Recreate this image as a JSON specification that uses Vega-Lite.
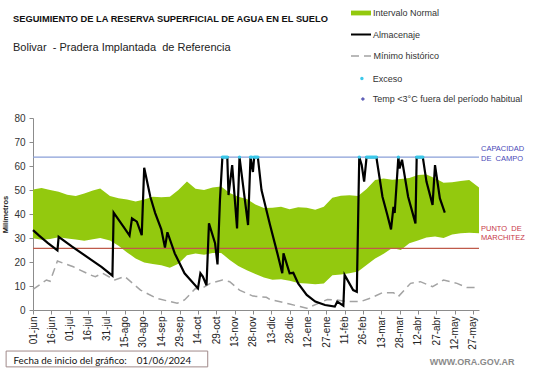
{
  "$schema": "https://vega.github.io/schema/vega-lite/v6.json",
  "width": 446,
  "height": 192,
  "autosize": {"type": "none"},
  "padding": {"left": 33, "top": 118, "right": 62, "bottom": 58},
  "background": "white",
  "config": {
    "view": {"stroke": null},
    "font": "Liberation Sans",
    "legend": {"title": null, "orient": "none", "padding": 0, "labelFont": "Liberation Sans", "labelFontSize": 9, "labelColor": "#333333", "labelLimit": 300}
  },
  "title": {
    "text": "SEGUIMIENTO DE LA RESERVA SUPERFICIAL DE AGUA EN EL SUELO",
    "subtitle": "Bolivar\u00a0 - Pradera Implantada\u00a0 de Referencia",
    "anchor": "start",
    "frame": "group",
    "dx": -20,
    "offset": -50,
    "font": "Liberation Sans",
    "fontSize": 9.3,
    "fontWeight": "bold",
    "color": "#111111",
    "subtitleFont": "Liberation Sans",
    "subtitleFontSize": 11,
    "subtitleColor": "#222222",
    "subtitlePadding": 18
  },
  "datasets": {
    "banda": [
      {"fecha": "2024-06-01", "inf": 29.9, "sup": 50.2},
      {"fecha": "2024-06-08", "inf": 29.3, "sup": 50.8},
      {"fecha": "2024-06-15", "inf": 29.6, "sup": 50.0},
      {"fecha": "2024-06-22", "inf": 30.3, "sup": 49.3},
      {"fecha": "2024-06-29", "inf": 29.8, "sup": 48.0},
      {"fecha": "2024-07-06", "inf": 29.4, "sup": 47.5},
      {"fecha": "2024-07-13", "inf": 28.9, "sup": 48.5},
      {"fecha": "2024-07-20", "inf": 29.5, "sup": 49.8},
      {"fecha": "2024-07-26", "inf": 30.0, "sup": 50.6},
      {"fecha": "2024-08-03", "inf": 29.0, "sup": 47.5},
      {"fecha": "2024-08-10", "inf": 26.8, "sup": 46.6},
      {"fecha": "2024-08-17", "inf": 24.0, "sup": 46.0},
      {"fecha": "2024-08-24", "inf": 21.5, "sup": 45.2},
      {"fecha": "2024-08-31", "inf": 19.8, "sup": 46.0},
      {"fecha": "2024-09-07", "inf": 19.2, "sup": 47.2},
      {"fecha": "2024-09-14", "inf": 18.6, "sup": 47.0},
      {"fecha": "2024-09-21", "inf": 17.6, "sup": 47.2},
      {"fecha": "2024-09-28", "inf": 19.3, "sup": 50.0},
      {"fecha": "2024-10-05", "inf": 22.8, "sup": 53.5},
      {"fecha": "2024-10-12", "inf": 23.5, "sup": 50.5},
      {"fecha": "2024-10-19", "inf": 23.0, "sup": 50.0},
      {"fecha": "2024-10-26", "inf": 23.8, "sup": 51.0},
      {"fecha": "2024-11-02", "inf": 23.8, "sup": 51.5},
      {"fecha": "2024-11-09", "inf": 20.8, "sup": 48.8},
      {"fecha": "2024-11-16", "inf": 18.3, "sup": 47.2},
      {"fecha": "2024-11-23", "inf": 16.6, "sup": 46.3},
      {"fecha": "2024-11-30", "inf": 15.0, "sup": 44.0},
      {"fecha": "2024-12-07", "inf": 13.5, "sup": 42.5},
      {"fecha": "2024-12-14", "inf": 12.6, "sup": 42.6},
      {"fecha": "2024-12-21", "inf": 12.8, "sup": 43.0},
      {"fecha": "2024-12-28", "inf": 12.2, "sup": 42.0},
      {"fecha": "2025-01-04", "inf": 11.2, "sup": 42.8},
      {"fecha": "2025-01-11", "inf": 11.0, "sup": 42.6},
      {"fecha": "2025-01-18", "inf": 10.7, "sup": 41.8},
      {"fecha": "2025-01-25", "inf": 11.0, "sup": 43.0},
      {"fecha": "2025-02-01", "inf": 14.5, "sup": 46.8},
      {"fecha": "2025-02-08", "inf": 14.8, "sup": 47.6},
      {"fecha": "2025-02-15", "inf": 15.3, "sup": 47.8},
      {"fecha": "2025-02-22", "inf": 16.0, "sup": 47.5},
      {"fecha": "2025-03-01", "inf": 18.8, "sup": 50.4},
      {"fecha": "2025-03-08", "inf": 21.5, "sup": 54.2},
      {"fecha": "2025-03-15", "inf": 23.4, "sup": 54.8},
      {"fecha": "2025-03-22", "inf": 25.8, "sup": 54.3},
      {"fecha": "2025-03-29", "inf": 25.0, "sup": 54.6},
      {"fecha": "2025-04-05", "inf": 27.8, "sup": 55.0},
      {"fecha": "2025-04-12", "inf": 29.0, "sup": 56.2},
      {"fecha": "2025-04-19", "inf": 30.2, "sup": 56.5},
      {"fecha": "2025-04-26", "inf": 30.6, "sup": 54.9},
      {"fecha": "2025-05-03", "inf": 30.0, "sup": 53.0},
      {"fecha": "2025-05-10", "inf": 31.5, "sup": 53.2},
      {"fecha": "2025-05-17", "inf": 32.0, "sup": 53.8},
      {"fecha": "2025-05-24", "inf": 32.2, "sup": 54.2},
      {"fecha": "2025-06-01", "inf": 32.0, "sup": 51.0}
    ],
    "minimo": [
      {"fecha": "2024-06-01", "mm": 8.6},
      {"fecha": "2024-06-12", "mm": 12.5},
      {"fecha": "2024-06-15", "mm": 12.0},
      {"fecha": "2024-06-21", "mm": 20.4},
      {"fecha": "2024-07-04", "mm": 18.0},
      {"fecha": "2024-07-18", "mm": 14.6},
      {"fecha": "2024-07-22", "mm": 13.9},
      {"fecha": "2024-07-28", "mm": 15.3},
      {"fecha": "2024-08-07", "mm": 12.5},
      {"fecha": "2024-08-15", "mm": 14.0},
      {"fecha": "2024-08-28", "mm": 8.3},
      {"fecha": "2024-09-10", "mm": 4.9},
      {"fecha": "2024-09-27", "mm": 2.8},
      {"fecha": "2024-10-03", "mm": 4.2},
      {"fecha": "2024-10-12", "mm": 9.0},
      {"fecha": "2024-10-16", "mm": 8.6},
      {"fecha": "2024-10-24", "mm": 11.1},
      {"fecha": "2024-11-03", "mm": 12.5},
      {"fecha": "2024-11-09", "mm": 11.8},
      {"fecha": "2024-11-17", "mm": 8.3},
      {"fecha": "2024-11-28", "mm": 5.8},
      {"fecha": "2024-12-09", "mm": 5.3},
      {"fecha": "2024-12-12", "mm": 4.4},
      {"fecha": "2024-12-28", "mm": 2.5},
      {"fecha": "2025-01-11", "mm": 0.7},
      {"fecha": "2025-01-22", "mm": 3.1},
      {"fecha": "2025-01-28", "mm": 4.4},
      {"fecha": "2025-02-05", "mm": 4.2},
      {"fecha": "2025-02-13", "mm": 3.5},
      {"fecha": "2025-02-24", "mm": 3.5},
      {"fecha": "2025-03-04", "mm": 4.9},
      {"fecha": "2025-03-14", "mm": 7.2},
      {"fecha": "2025-03-23", "mm": 7.2},
      {"fecha": "2025-03-27", "mm": 5.6},
      {"fecha": "2025-04-06", "mm": 11.1},
      {"fecha": "2025-04-14", "mm": 11.8},
      {"fecha": "2025-04-24", "mm": 9.7},
      {"fecha": "2025-05-03", "mm": 12.5},
      {"fecha": "2025-05-14", "mm": 11.1},
      {"fecha": "2025-05-22", "mm": 9.4},
      {"fecha": "2025-06-01", "mm": 9.4}
    ],
    "almacenaje": [
      {"fecha": "2024-06-01", "mm": 33.3},
      {"fecha": "2024-06-06", "mm": 31.0},
      {"fecha": "2024-06-13", "mm": 28.0},
      {"fecha": "2024-06-21", "mm": 24.8},
      {"fecha": "2024-06-22", "mm": 30.5},
      {"fecha": "2024-07-03", "mm": 26.4},
      {"fecha": "2024-07-19", "mm": 20.8},
      {"fecha": "2024-07-27", "mm": 18.0},
      {"fecha": "2024-08-05", "mm": 14.3},
      {"fecha": "2024-08-06", "mm": 40.6},
      {"fecha": "2024-08-14", "mm": 34.7},
      {"fecha": "2024-08-19", "mm": 31.0},
      {"fecha": "2024-08-21", "mm": 38.2},
      {"fecha": "2024-08-25", "mm": 36.8},
      {"fecha": "2024-08-29", "mm": 31.2},
      {"fecha": "2024-08-31", "mm": 59.3},
      {"fecha": "2024-09-05", "mm": 47.2},
      {"fecha": "2024-09-09", "mm": 40.4},
      {"fecha": "2024-09-14", "mm": 33.6},
      {"fecha": "2024-09-17", "mm": 26.0},
      {"fecha": "2024-09-19", "mm": 32.4},
      {"fecha": "2024-09-25", "mm": 23.6},
      {"fecha": "2024-10-03", "mm": 15.3},
      {"fecha": "2024-10-14", "mm": 9.0},
      {"fecha": "2024-10-16", "mm": 15.3},
      {"fecha": "2024-10-18", "mm": 13.9},
      {"fecha": "2024-10-21", "mm": 10.3},
      {"fecha": "2024-10-23", "mm": 36.1},
      {"fecha": "2024-10-28", "mm": 27.8},
      {"fecha": "2024-10-30", "mm": 19.0},
      {"fecha": "2024-11-01", "mm": 45.8},
      {"fecha": "2024-11-03", "mm": 63.7},
      {"fecha": "2024-11-07", "mm": 63.7},
      {"fecha": "2024-11-08", "mm": 47.9},
      {"fecha": "2024-11-11", "mm": 60.4},
      {"fecha": "2024-11-15", "mm": 34.0},
      {"fecha": "2024-11-17", "mm": 63.7},
      {"fecha": "2024-11-24", "mm": 35.4},
      {"fecha": "2024-11-26", "mm": 63.7},
      {"fecha": "2024-11-28", "mm": 57.5},
      {"fecha": "2024-11-29", "mm": 63.7},
      {"fecha": "2024-12-02", "mm": 63.7},
      {"fecha": "2024-12-05", "mm": 50.0},
      {"fecha": "2024-12-12", "mm": 35.4},
      {"fecha": "2024-12-18", "mm": 23.6},
      {"fecha": "2024-12-22", "mm": 15.3},
      {"fecha": "2024-12-23", "mm": 23.6},
      {"fecha": "2024-12-28", "mm": 15.3},
      {"fecha": "2024-12-31", "mm": 15.5},
      {"fecha": "2025-01-04", "mm": 11.1},
      {"fecha": "2025-01-11", "mm": 6.3},
      {"fecha": "2025-01-18", "mm": 3.5},
      {"fecha": "2025-01-26", "mm": 2.1},
      {"fecha": "2025-02-03", "mm": 1.4},
      {"fecha": "2025-02-05", "mm": 3.5},
      {"fecha": "2025-02-10", "mm": 1.8},
      {"fecha": "2025-02-11", "mm": 14.6},
      {"fecha": "2025-02-18", "mm": 8.3},
      {"fecha": "2025-02-21", "mm": 7.6},
      {"fecha": "2025-02-23", "mm": 63.7},
      {"fecha": "2025-02-25", "mm": 60.4},
      {"fecha": "2025-02-27", "mm": 53.5},
      {"fecha": "2025-03-01", "mm": 63.7},
      {"fecha": "2025-03-09", "mm": 63.7},
      {"fecha": "2025-03-14", "mm": 47.2},
      {"fecha": "2025-03-18", "mm": 39.6},
      {"fecha": "2025-03-21", "mm": 33.6},
      {"fecha": "2025-03-23", "mm": 43.0},
      {"fecha": "2025-03-24", "mm": 40.4},
      {"fecha": "2025-03-27", "mm": 63.7},
      {"fecha": "2025-03-28", "mm": 59.0},
      {"fecha": "2025-03-30", "mm": 62.6},
      {"fecha": "2025-04-04", "mm": 47.2},
      {"fecha": "2025-04-10", "mm": 36.1},
      {"fecha": "2025-04-11", "mm": 63.7},
      {"fecha": "2025-04-16", "mm": 63.7},
      {"fecha": "2025-04-19", "mm": 53.5},
      {"fecha": "2025-04-24", "mm": 43.8},
      {"fecha": "2025-04-26", "mm": 60.4},
      {"fecha": "2025-04-30", "mm": 46.5},
      {"fecha": "2025-05-04", "mm": 40.6}
    ],
    "exceso": [
      {"fecha": "2024-11-03", "mm": 63.7},
      {"fecha": "2024-11-04", "mm": 63.7},
      {"fecha": "2024-11-05", "mm": 63.7},
      {"fecha": "2024-11-06", "mm": 63.7},
      {"fecha": "2024-11-07", "mm": 63.7},
      {"fecha": "2024-11-17", "mm": 63.7},
      {"fecha": "2024-11-26", "mm": 63.7},
      {"fecha": "2024-11-27", "mm": 63.7},
      {"fecha": "2024-11-29", "mm": 63.7},
      {"fecha": "2024-11-30", "mm": 63.7},
      {"fecha": "2024-12-01", "mm": 63.7},
      {"fecha": "2024-12-02", "mm": 63.7},
      {"fecha": "2025-02-23", "mm": 63.7},
      {"fecha": "2025-03-01", "mm": 63.7},
      {"fecha": "2025-03-02", "mm": 63.7},
      {"fecha": "2025-03-03", "mm": 63.7},
      {"fecha": "2025-03-04", "mm": 63.7},
      {"fecha": "2025-03-05", "mm": 63.7},
      {"fecha": "2025-03-06", "mm": 63.7},
      {"fecha": "2025-03-07", "mm": 63.7},
      {"fecha": "2025-03-08", "mm": 63.7},
      {"fecha": "2025-03-09", "mm": 63.7},
      {"fecha": "2025-03-27", "mm": 63.7},
      {"fecha": "2025-04-11", "mm": 63.7},
      {"fecha": "2025-04-12", "mm": 63.7},
      {"fecha": "2025-04-13", "mm": 63.7},
      {"fecha": "2025-04-14", "mm": 63.7},
      {"fecha": "2025-04-15", "mm": 63.7},
      {"fecha": "2025-04-16", "mm": 63.7}
    ]
  },
  "layer": [
    {
      "data": {"name": "banda"},
      "mark": {"type": "area", "opacity": 1},
      "encoding": {
        "x": {
          "field": "fecha",
          "type": "temporal",
          "scale": {
            "type": "utc",
            "domain": [
              {"year": 2024, "month": 6, "date": 1, "utc": true},
              {"year": 2025, "month": 6, "date": 1, "utc": true}
            ]
          },
          "axis": {
            "values": [
              {"year": 2024, "month": 6, "date": 1, "utc": true},
              {"year": 2024, "month": 6, "date": 16, "utc": true},
              {"year": 2024, "month": 7, "date": 1, "utc": true},
              {"year": 2024, "month": 7, "date": 16, "utc": true},
              {"year": 2024, "month": 7, "date": 31, "utc": true},
              {"year": 2024, "month": 8, "date": 15, "utc": true},
              {"year": 2024, "month": 8, "date": 30, "utc": true},
              {"year": 2024, "month": 9, "date": 14, "utc": true},
              {"year": 2024, "month": 9, "date": 29, "utc": true},
              {"year": 2024, "month": 10, "date": 14, "utc": true},
              {"year": 2024, "month": 10, "date": 29, "utc": true},
              {"year": 2024, "month": 11, "date": 13, "utc": true},
              {"year": 2024, "month": 11, "date": 28, "utc": true},
              {"year": 2024, "month": 12, "date": 13, "utc": true},
              {"year": 2024, "month": 12, "date": 28, "utc": true},
              {"year": 2025, "month": 1, "date": 12, "utc": true},
              {"year": 2025, "month": 1, "date": 27, "utc": true},
              {"year": 2025, "month": 2, "date": 11, "utc": true},
              {"year": 2025, "month": 2, "date": 26, "utc": true},
              {"year": 2025, "month": 3, "date": 13, "utc": true},
              {"year": 2025, "month": 3, "date": 28, "utc": true},
              {"year": 2025, "month": 4, "date": 12, "utc": true},
              {"year": 2025, "month": 4, "date": 27, "utc": true},
              {"year": 2025, "month": 5, "date": 12, "utc": true},
              {"year": 2025, "month": 5, "date": 27, "utc": true}
            ],
            "tickCount": 40,
            "labelExpr": "utcFormat(datum.value, '%d') + '-' + ['ene','feb','mar','abr','may','jun','jul','ago','sep','oct','nov','dic'][utcmonth(datum.value)]",
            "labelAngle": -90,
            "labelOverlap": false,
            "labelFont": "Liberation Sans",
            "labelFontSize": 10,
            "labelColor": "#222222",
            "labelPadding": 2,
            "labelFlush": false,
            "tickSize": 4,
            "tickColor": "#8c8c8c",
            "domainColor": "#8c8c8c",
            "grid": false,
            "title": "Fecha de inicio del gráfico:\u00a0\u00a0\u00a0 01/06/2024",
            "titleFont": "Lato",
            "titleFontSize": 9.8,
            "titleFontWeight": "normal",
            "titleColor": "#111111",
            "titleX": -20,
            "titleY": 50,
            "titleAlign": "left",
            "titleAnchor": "start",
            "titleBaseline": "middle"
          }
        },
        "y": {
          "field": "inf",
          "type": "quantitative",
          "scale": {"domain": [0, 80], "nice": false},
          "axis": {
            "values": [0, 10, 20, 30, 40, 50, 60, 70, 80],
            "tickCount": 20,
            "title": "Milímetros",
            "titleFont": "Liberation Sans",
            "titleFontSize": 7.5,
            "titleFontWeight": "bold",
            "titleColor": "#222222",
            "titlePadding": 4,
            "labelFont": "Liberation Sans",
            "labelFontSize": 10,
            "labelColor": "#333333",
            "labelPadding": 4,
            "tickSize": 4,
            "tickColor": "#8c8c8c",
            "domainColor": "#8c8c8c",
            "grid": false
          }
        },
        "y2": {"field": "sup"},
        "fill": {
          "datum": "Intervalo Normal",
          "scale": {"range": ["#93c90e"]},
          "legend": {
            "legendX": 318,
            "legendY": -115,
            "symbolType": "M-1,-0.24H1V0.24H-1Z",
            "symbolSize": 400,
            "symbolStrokeWidth": 0,
            "labelOffset": 2
          }
        }
      }
    },
    {
      "data": {"name": "minimo"},
      "mark": {"type": "line", "strokeWidth": 1.5, "color": "#a3a3a3"},
      "encoding": {
        "x": {"field": "fecha", "type": "temporal"},
        "y": {"field": "mm", "type": "quantitative"},
        "strokeDash": {
          "datum": "Mínimo histórico",
          "scale": {"range": [[8, 5]]},
          "legend": {
            "legendX": 317,
            "legendY": -73,
            "symbolType": "stroke",
            "symbolSize": 400,
            "symbolStrokeWidth": 1.5,
            "labelOffset": 1.5
          }
        }
      }
    },
    {
      "data": {"values": [{}]},
      "mark": {"type": "rule", "color": "#bf5a4a", "strokeWidth": 1.3},
      "encoding": {"y": {"datum": 25.7}}
    },
    {
      "data": {"values": [{}]},
      "mark": {"type": "rule", "color": "#8a9fd8", "strokeWidth": 1.3},
      "encoding": {"y": {"datum": 63.7}}
    },
    {
      "data": {"name": "almacenaje"},
      "mark": {"type": "line", "strokeWidth": 2.2},
      "encoding": {
        "x": {"field": "fecha", "type": "temporal"},
        "y": {"field": "mm", "type": "quantitative"},
        "stroke": {
          "datum": "Almacenaje",
          "scale": {"range": ["#000000"]},
          "legend": {
            "legendX": 317,
            "legendY": -94.5,
            "symbolType": "stroke",
            "symbolSize": 400,
            "symbolStrokeWidth": 2,
            "labelOffset": 1
          }
        }
      }
    },
    {
      "data": {"name": "exceso"},
      "mark": {"type": "point", "size": 12, "filled": true, "opacity": 1, "color": "#3cc8ea"},
      "encoding": {
        "x": {"field": "fecha", "type": "temporal"},
        "y": {"field": "mm", "type": "quantitative"},
        "shape": {
          "datum": "Exceso",
          "scale": {"range": ["circle"]},
          "legend": {
            "legendX": 324.4,
            "legendY": -44,
            "symbolSize": 12,
            "symbolStrokeWidth": 0,
            "symbolFillColor": "#3cc8ea",
            "labelOffset": 6.4
          }
        }
      }
    },
    {
      "data": {"values": []},
      "mark": {"type": "point", "shape": "diamond", "size": 18, "filled": true},
      "encoding": {
        "color": {
          "datum": "Temp <3°C fuera del período habitual",
          "scale": {"range": ["#1c1c9a"]},
          "legend": {
            "legendX": 325.4,
            "legendY": -23.5,
            "symbolType": "diamond",
            "symbolSize": 18,
            "symbolStrokeWidth": 0,
            "labelOffset": 5.4
          }
        }
      }
    },
    {
      "data": {"values": [{}]},
      "mark": {"type": "text", "align": "left", "baseline": "middle", "color": "#4a4ab8", "font": "Liberation Sans", "fontSize": 7.5, "lineHeight": 9.5, "dx": 2, "dy": -8, "clip": false},
      "encoding": {
        "x": {"datum": {"year": 2025, "month": 6, "date": 1, "utc": true}, "type": "temporal"},
        "y": {"datum": 63.7},
        "text": {"value": ["CAPACIDAD", "DE\u00a0 CAMPO"]}
      }
    },
    {
      "data": {"values": [{}]},
      "mark": {"type": "text", "align": "left", "baseline": "middle", "color": "#c83848", "font": "Liberation Sans", "fontSize": 7.5, "lineHeight": 9, "dx": 2, "dy": -19, "clip": false},
      "encoding": {
        "x": {"datum": {"year": 2025, "month": 6, "date": 1, "utc": true}, "type": "temporal"},
        "y": {"datum": 25.7},
        "text": {"value": ["PUNTO\u00a0 DE", "MARCHITEZ"]}
      }
    },
    {
      "data": {"values": [{}]},
      "mark": {"type": "text", "align": "right", "baseline": "middle", "color": "#8a8a8a", "font": "Liberation Sans", "fontSize": 9, "fontWeight": "bold", "clip": false},
      "encoding": {
        "x": {"datum": {"year": 2025, "month": 6, "date": 30, "utc": true}, "type": "temporal"},
        "y": {"datum": -21.7},
        "text": {"value": "WWW.ORA.GOV.AR"}
      }
    },
    {
      "data": {"values": [{}]},
      "mark": {"type": "rect", "filled": false, "color": "#a08a8a", "strokeWidth": 1, "clip": false},
      "encoding": {
        "x": {"datum": {"year": 2024, "month": 5, "date": 10, "utc": true}, "type": "temporal"},
        "x2": {"datum": {"year": 2024, "month": 10, "date": 22, "utc": true}},
        "y": {"datum": -17.1},
        "y2": {"datum": -23.7}
      }
    }
  ]
}
